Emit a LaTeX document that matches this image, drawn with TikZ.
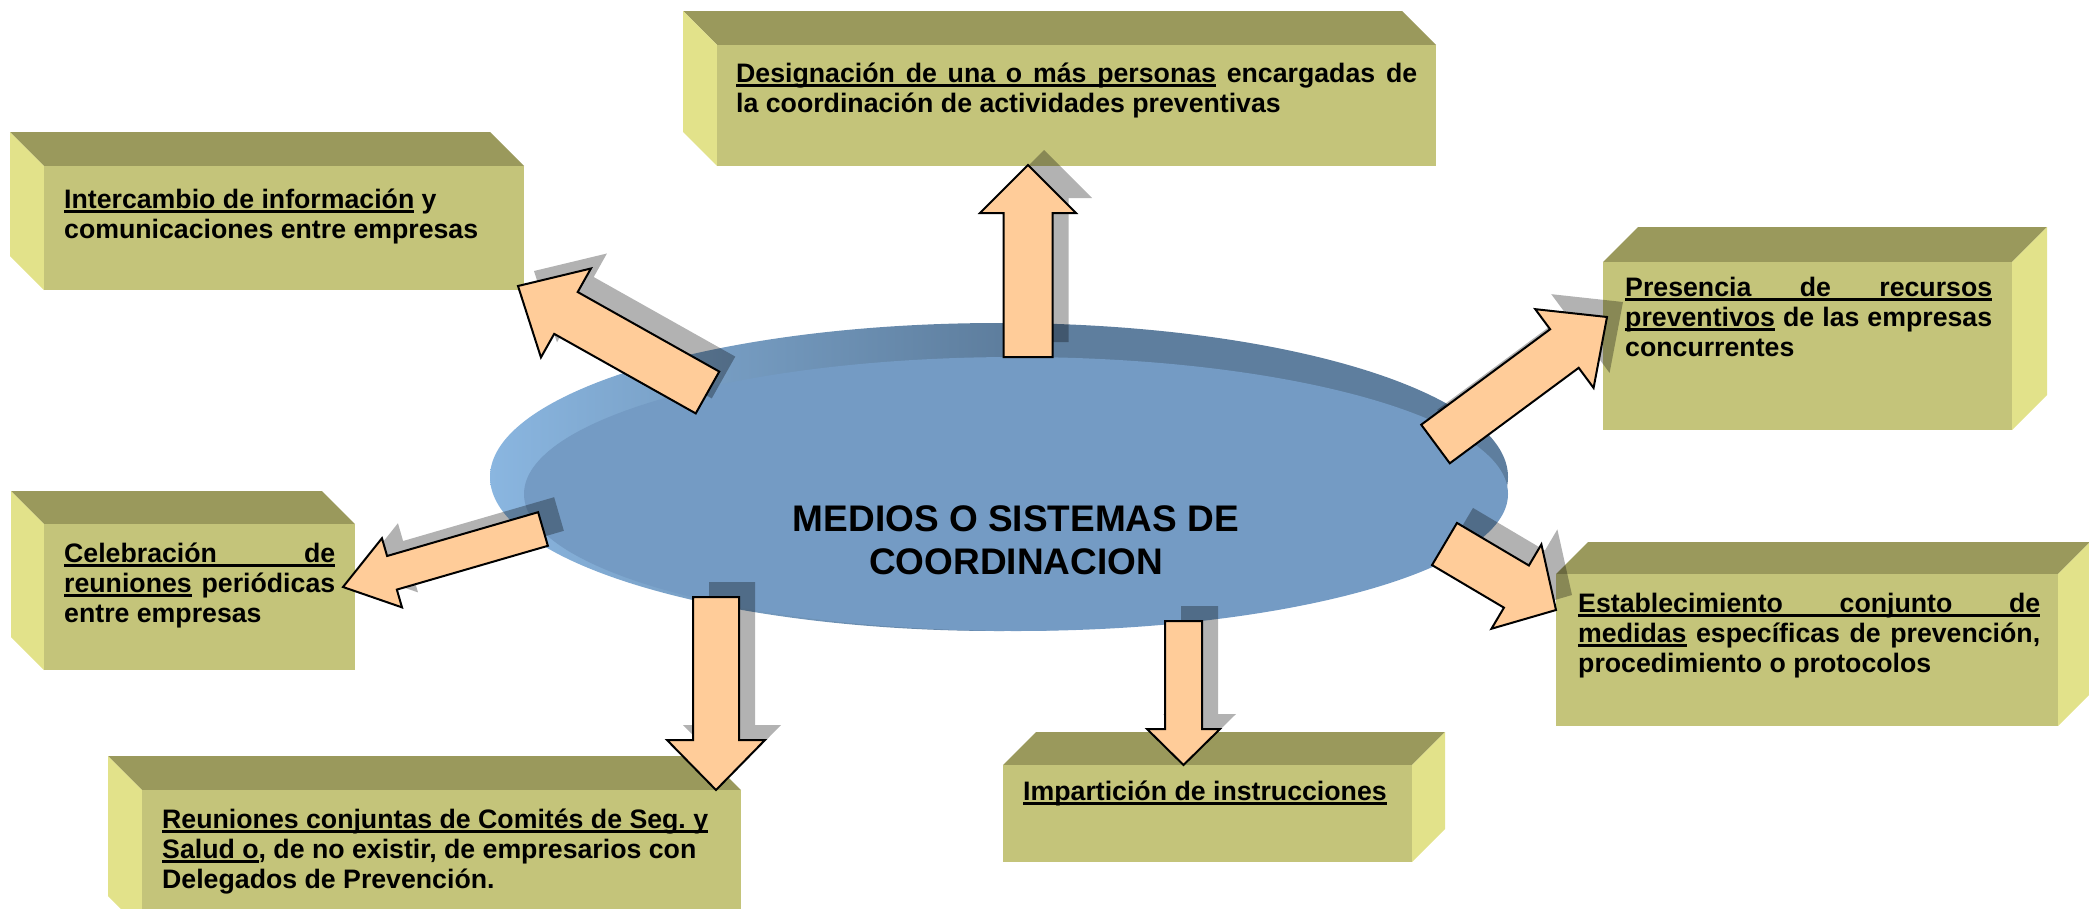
\documentclass[tikz,border=0pt]{standalone}
\usepackage{fontspec}
\setmainfont{Liberation Sans}
\usetikzlibrary{calc}
\definecolor{frontc}{RGB}{196,196,122}
\definecolor{topc}{RGB}{154,153,92}
\definecolor{sidec}{RGB}{226,226,138}
\definecolor{peach}{RGB}{255,204,153}
\definecolor{rimdark}{RGB}{94,126,158}
\definecolor{rimlight}{RGB}{138,182,224}
\definecolor{discc}{RGB}{116,155,196}

\newcommand\ulword[1]{\setbox0\hbox{#1}\rlap{\rule[-4.3pt]{\wd0}{2.1pt}}\box0\relax}
\newcommand\ulspace{\leaders\hrule height -2.2pt depth 4.3pt\hskip\fontdimen2\font plus\fontdimen3\font minus\fontdimen4\font\relax}
\def\ulp#1{\ulpaux#1 \relax}
\def\ulpaux#1 #2\relax{\ulword{#1}\ifx\relax#2\relax\else\ulspace\ulpaux#2\relax\fi}
\newcommand\lnfull[1]{\hbox to\hsize{\rule{0pt}{21pt}#1}}
\newcommand\lnnat[1]{\hbox{\rule{0pt}{21pt}#1}}
\newcommand\txtblock[2]{\vtop{\hsize=#1pt\baselineskip=30pt\relax #2}}

\newcommand\boxleft[6]{%
  \fill[topf] (#2,#3) -- ({#2-#6},{#3-#6}) -- ({#2+#4-#6},{#3-#6}) -- ({#2+#4},#3) -- cycle;
  \fill[sidef] (#2,#3) -- ({#2-#6},{#3-#6}) -- ({#2-#6},{#3+#5-#6}) -- (#2,{#3+#5}) -- cycle;
  \node[frontface, minimum width=#4, minimum height=#5, anchor=north west] (#1) at (#2,#3) {};}
\newcommand\boxright[6]{%
  \fill[topf] (#2,#3) -- ({#2+#6},{#3-#6}) -- ({#2+#4+#6},{#3-#6}) -- ({#2+#4},#3) -- cycle;
  \fill[sidef] ({#2+#4},#3) -- ({#2+#4+#6},{#3-#6}) -- ({#2+#4+#6},{#3+#5-#6}) -- ({#2+#4},{#3+#5}) -- cycle;
  \node[frontface, minimum width=#4, minimum height=#5, anchor=north west] (#1) at (#2,#3) {};}

% #1 style, #2 tail, #3 tip, #4 shaft half width, #5 head half width, #6 head length
\newcommand\blockarr[6]{%
  \coordinate (hb) at ($(#3)!#6pt!(#2)$);
  \path[#1] ($(#2)!#4pt!90:(#3)$) -- ($(hb)!#4pt!90:(#3)$) -- ($(hb)!#5pt!90:(#3)$) -- (#3)
    -- ($(hb)!#5pt!-90:(#3)$) -- ($(hb)!#4pt!-90:(#3)$) -- ($(#2)!#4pt!-90:(#3)$) -- cycle;}

\begin{document}
\begin{tikzpicture}[x=1pt,y=-1pt,
  frontface/.style={draw=none, fill=frontc, inner sep=0pt, outer sep=0pt, rectangle},
  topf/.style={fill=topc},
  sidef/.style={fill=sidec},
  txt/.style={anchor=north west, inner sep=0pt, font=\fontsize{26.7pt}{30pt}\selectfont\bfseries},
  arr/.style={fill=peach, draw=black, line width=2pt, line join=miter},
  shad/.style={fill=black, fill opacity=0.3, draw=none},
]
\useasboundingbox (0,0) rectangle (2089,908);
\clip (0,0) rectangle (2089,908);

% boxes
\boxleft{b1}{717}{45}{719}{121}{34}
\boxleft{b2}{44}{166}{480}{124}{34}
\boxright{b3}{1603}{262}{409}{168}{35}
\boxleft{b4}{44}{524}{311}{146}{33}
\boxright{b5}{1556}{574}{502}{152}{32}
\boxleft{b6}{142}{790}{599}{140}{34}
\boxright{b7}{1003}{765}{409}{97}{33}

\node[txt] (t1) at (736,61) {\txtblock{681}{%
  \lnfull{\ulp{Designación de una o más personas} encargadas de}%
  \lnnat{la coordinación de actividades preventivas}}};
\node[txt] (t2) at (64,187) {\txtblock{440}{%
  \lnnat{\ulp{Intercambio de información} y}%
  \lnnat{comunicaciones entre empresas}}};
\node[txt] (t3) at (1625,275) {\txtblock{367}{%
  \lnfull{\ulp{Presencia de recursos}}%
  \lnfull{\ulp{preventivos} de las empresas}%
  \lnnat{concurrentes}}};
\node[txt] (t4) at (64,541) {\txtblock{271}{%
  \lnfull{\ulp{Celebración de}}%
  \lnfull{\ulp{reuniones} periódicas}%
  \lnnat{entre empresas}}};
\node[txt] (t5) at (1578,591) {\txtblock{462}{%
  \lnfull{\ulp{Establecimiento conjunto de}}%
  \lnfull{\ulp{medidas} específicas de prevención,}%
  \lnnat{procedimiento o protocolos}}};
\node[txt] (t6) at (162,807) {\txtblock{546}{%
  \lnnat{\ulp{Reuniones conjuntas de Comités de Seg. y}}%
  \lnnat{\ulp{Salud o}, de no existir, de empresarios con}%
  \lnnat{Delegados de Prevención.}}};
\node[txt] (t7) at (1023,779) {\txtblock{400}{%
  \lnnat{\ulp{Impartición de instrucciones}}}};

% central disc
\shade[left color=rimlight, right color=rimdark, middle color=rimdark] (999,477) ellipse [x radius=509, y radius=154];
\fill[discc] (1016,494) ellipse [x radius=492, y radius=137];
\node[anchor=north, inner sep=0pt, font=\fontsize{37pt}{43pt}\selectfont\bfseries] (ctext) at (1016,501)
  {\vtop{\hsize=700pt\baselineskip=43pt\relax
   \hbox to\hsize{\hss\rule{0pt}{30pt}MEDIOS O SISTEMAS DE\hss}%
   \hbox to\hsize{\hss COORDINACION\hss}}};

% arrow ends
\coordinate (a1s) at (1028,357);   \coordinate (a1e) at (1028,165);
\coordinate (a2s) at (707.5,392.5); \coordinate (a2e) at (518,286);
\coordinate (a3s) at (1435.5,444); \coordinate (a3e) at (1607,317);
\coordinate (a4s) at (543,529);    \coordinate (a4e) at (343,587);
\coordinate (a5s) at (1444.5,544); \coordinate (a5e) at (1556,610);
\coordinate (a6s) at (716,597);    \coordinate (a6e) at (716,790);
\coordinate (a7s) at (1183.5,621); \coordinate (a7e) at (1183.5,765);

% shadows
\begin{scope}[transform canvas={shift={(16,-15)}}]
\blockarr{shad}{a1s}{a1e}{24.5}{48}{48}
\blockarr{shad}{a2s}{a2e}{24}{51}{55}
\blockarr{shad}{a3s}{a3e}{24}{49}{53}
\blockarr{shad}{a4s}{a4e}{17.5}{36}{51}
\blockarr{shad}{a5s}{a5e}{24.5}{49}{46}
\blockarr{shad}{a6s}{a6e}{23}{49}{50}
\blockarr{shad}{a7s}{a7e}{18.5}{36.5}{36}
\end{scope}

% arrows
\blockarr{arr}{a1s}{a1e}{24.5}{48}{48}
\blockarr{arr}{a2s}{a2e}{24}{51}{55}
\blockarr{arr}{a3s}{a3e}{24}{49}{53}
\blockarr{arr}{a4s}{a4e}{17.5}{36}{51}
\blockarr{arr}{a5s}{a5e}{24.5}{49}{46}
\blockarr{arr}{a6s}{a6e}{23}{49}{50}
\blockarr{arr}{a7s}{a7e}{18.5}{36.5}{36}
\end{tikzpicture}
\end{document}
